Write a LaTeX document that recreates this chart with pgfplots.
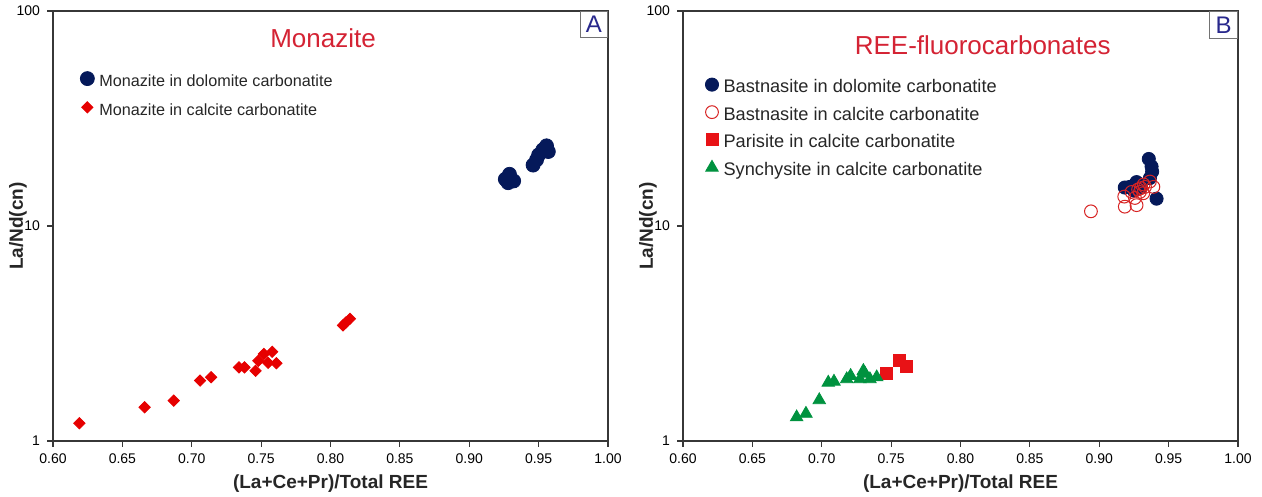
\documentclass[border=0pt]{standalone}
\usepackage{fontspec}
\setmainfont{Liberation Sans}
\usepackage{pgfplots}
\pgfplotsset{compat=1.18}
\definecolor{navy}{RGB}{5,25,90}
\definecolor{dred}{RGB}{230,0,0}
\definecolor{ored}{RGB}{215,35,35}
\definecolor{sred}{RGB}{232,18,22}
\definecolor{mgreen}{RGB}{0,146,63}
\definecolor{tred}{RGB}{212,35,52}
\definecolor{lblue}{RGB}{40,40,140}
\definecolor{axgray}{RGB}{55,55,55}
\pgfplotsset{myaxis/.style={
  scale only axis, width=277.5pt, height=215pt,
  xmin=0.6, xmax=1.0, ymin=1, ymax=100,
  xtick={0.6,0.65,0.7,0.75,0.8,0.85,0.9,0.95,1.0},
  xticklabels={0.60,0.65,0.70,0.75,0.80,0.85,0.90,0.95,1.00},
  ytick={1,10,100}, yticklabels={1,10,100},
  yminorticks=false, xtick pos=bottom, ytick pos=left,
  tick align=outside, major tick length=3pt,
  tick style={line width=0.6pt, color=axgray},
  axis line style={line width=1.1pt, color=axgray},
  /pgf/number format/assume math mode=true,
  tick label style={font=\fontsize{7}{8}\selectfont, color=black},
  xlabel={(La+Ce+Pr)/Total REE}, ylabel={La/Nd(cn)},
  label style={font=\bfseries\fontsize{9.5}{11}\selectfont, color=black!85},
  xlabel style={at={(axis description cs:0.5,-0.098)}, anchor=center},
  ylabel style={at={(axis description cs:-0.063,0.5)}, anchor=center},
  legend cell align=left,
  legend image code/.code={\draw[##1] plot coordinates {(0pt,1.8pt)};},
  legend style={draw=none, fill=none, inner sep=0pt, anchor=north west,
     nodes={inner sep=0pt, text height=6pt, text depth=1.5pt},
     /tikz/every odd column/.style={column sep=2.5pt}},
}}
\begin{document}
\begin{tikzpicture}
\useasboundingbox (0,0) rectangle (631pt,248.5pt);
% ---------------- Panel A
\begin{axis}[ymode=log, myaxis, at={(26.5pt,28pt)}, anchor=south west,
  legend style={at={(axis description cs:0.0486,0.860)}, row sep=6pt,
     font=\fontsize{8.1}{9}\selectfont, text=black!85}]
\addplot[only marks, mark=*, mark size=3.5pt, color=navy] coordinates {
(0.926,16.5) (0.929,17.4) (0.932,16.2) (0.928,15.9)
(0.946,19.2) (0.9485,20.3) (0.950,21.4) (0.953,22.6) (0.9557,23.6) (0.957,22.2)};
\addlegendentry{Monazite in dolomite carbonatite}
\addplot[only marks, mark=square*, mark size=2pt, mark options={rotate=45}, color=dred] coordinates {
(0.619,1.21) (0.666,1.435) (0.687,1.54) (0.706,1.91) (0.714,1.98)
(0.734,2.20) (0.738,2.20) (0.746,2.12) (0.748,2.36) (0.752,2.54)
(0.755,2.31) (0.758,2.60) (0.761,2.30) (0.809,3.45) (0.811,3.55) (0.814,3.70)};
\addlegendentry{Monazite in calcite carbonatite}
\node[font=\fontsize{13}{15}\selectfont, text=tred] at (axis description cs:0.4865,0.937) {Monazite};
\node[draw=axgray!70, line width=0.5pt, anchor=north east, minimum width=13.5pt, minimum height=13pt, inner sep=0pt,
  font=\fontsize{12}{14}\selectfont, text=lblue] at (rel axis cs:1,1) {A};
\end{axis}
% ---------------- Panel B
\begin{axis}[ymode=log, myaxis, at={(341.5pt,28pt)}, anchor=south west,
  legend style={at={(axis description cs:0.0396,0.845)}, row sep=5pt,
     font=\fontsize{9.1}{10}\selectfont, text=black!85}]
\addplot[only marks, mark=*, mark size=3.3pt, color=navy] coordinates {
(0.9357,20.5) (0.9377,18.9) (0.9381,17.9) (0.9365,16.7) (0.9184,15.1)
(0.922,15.2) (0.9269,16.0) (0.930,15.2) (0.9413,13.4) (0.925,14.6)};
\addlegendentry{Bastnasite in dolomite carbonatite}
\addplot[only marks, mark=o, mark size=3.2pt, color=ored, mark options={line width=0.5pt}] coordinates {
(0.894,11.7) (0.9184,12.3) (0.918,13.7) (0.9269,12.5) (0.9257,13.5)
(0.9293,14.4) (0.933,15.2) (0.9365,16.1) (0.939,15.2) (0.9317,14.2)
(0.9233,14.4) (0.930,15.0) (0.928,14.8) (0.932,15.6)};
\addlegendentry{Bastnasite in calcite carbonatite}
\addplot[only marks, mark=square*, mark size=3pt, color=sred] coordinates {
(0.7468,2.06) (0.7559,2.36) (0.7607,2.22)};
\addlegendentry{Parisite in calcite carbonatite}
\addplot[only marks, mark=triangle*, mark size=3.6pt, color=mgreen] coordinates {
(0.6819,1.29) (0.6886,1.34) (0.6982,1.55) (0.7047,1.87) (0.7088,1.89)
(0.718,1.94) (0.7208,2.01) (0.7275,1.94) (0.7311,2.06) (0.7347,1.94)
(0.7396,1.98) (0.730,2.12)};
\addlegendentry{Synchysite in calcite carbonatite}
\node[font=\fontsize{13}{15}\selectfont, text=tred] at (axis description cs:0.54,0.921) {REE-fluorocarbonates};
\node[draw=axgray!70, line width=0.5pt, anchor=north east, minimum width=14pt, minimum height=13.5pt, inner sep=0pt,
  font=\fontsize{12}{14}\selectfont, text=lblue] at (rel axis cs:1,1) {B};
\end{axis}
\end{tikzpicture}
\end{document}
